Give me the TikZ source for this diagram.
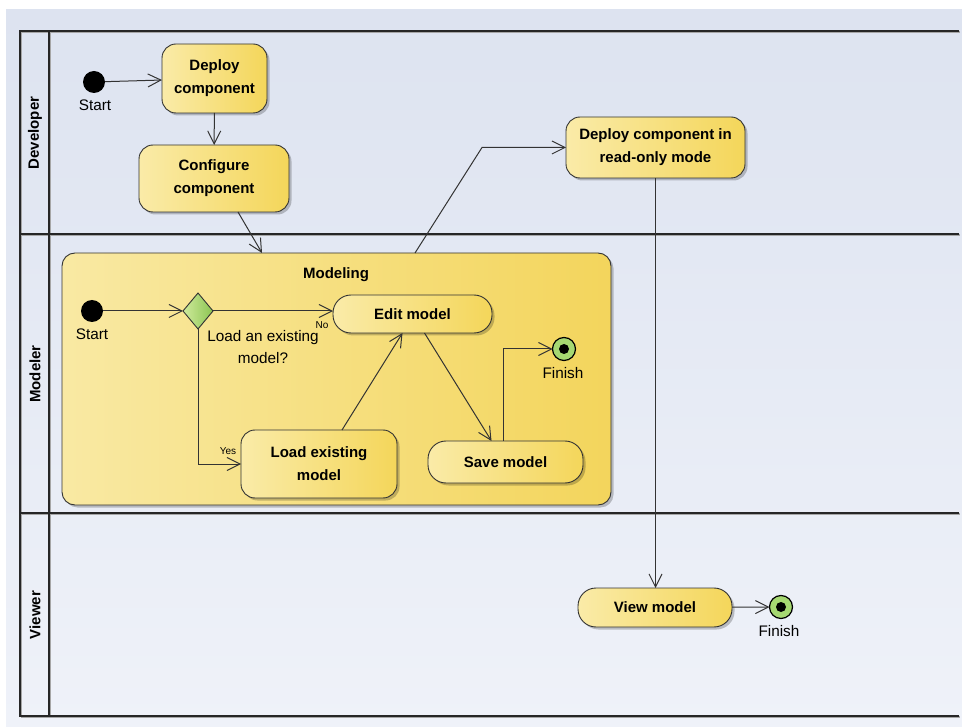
\documentclass[tikz,border=0pt]{standalone}
\usepackage{fontspec}
\setmainfont{Liberation Sans}
\usetikzlibrary{arrows.meta,shapes.geometric,shadows,calc}

\definecolor{bgTop}{HTML}{DDE3F0}
\definecolor{bgBot}{HTML}{EFF2F9}
\definecolor{actL}{HTML}{FAEBA8}
\definecolor{actR}{HTML}{F4D65A}
\definecolor{grpL}{HTML}{F9E9A3}
\definecolor{grpR}{HTML}{F3D55C}
\definecolor{decL}{HTML}{CFEA9C}
\definecolor{decR}{HTML}{8CC552}
\definecolor{finG}{HTML}{A6D872}
\definecolor{edge}{HTML}{333333}

\begin{document}
\begin{tikzpicture}[x=1pt,y=-1pt,
  every node/.style={inner sep=0pt, outer sep=0pt},
  shade/.style={drop shadow={shadow xshift=2.5pt, shadow yshift=-2.5pt, opacity=0.22, fill=black}},
  action/.style={shade, draw=edge, line width=0.9pt, rounded corners=14pt,
    left color=actL, right color=actR, align=center,
    font=\bfseries\fontsize{15}{23}\selectfont},
  group/.style={shade, draw=edge, line width=0.9pt, rounded corners=13pt,
    left color=grpL, right color=grpR},
  initial/.style={circle, fill=black, minimum size=22pt},
  final/.style={circle, draw=black, line width=1.2pt, fill=finG, minimum size=23pt,
    path picture={\fill[black] (path picture bounding box.center) circle (5pt);}},
  decision/.style={diamond, draw=edge, line width=0.9pt, left color=decL, right color=decR,
    minimum width=30pt, minimum height=36pt, aspect=0.83},
  lbl/.style={font=\fontsize{15.3}{22}\selectfont, align=center},
  guard/.style={font=\fontsize{10}{11}\selectfont},
  lane/.style={font=\bfseries\fontsize{15}{16}\selectfont, rotate=90},
  frame/.style={line width=1.4pt, black!85},
  flow/.style={draw=edge, line width=1pt, -{Straight Barb[length=13pt,width=13pt,line width=1pt]}}
]
\useasboundingbox (0,0) rectangle (962,727);

% swimlane background and frame
\fill[top color=bgTop, bottom color=bgBot] (6,10) rectangle (962,727);
\begin{scope}[black!35, line width=1.4pt, transform canvas={xshift=1pt, yshift=-1pt}]
  \draw (20,31) -- (959,31);
  \draw (20,234) -- (959,234);
  \draw (20,513) -- (959,513);
  \draw (20,716) -- (959,716);
  \draw (20,31) -- (20,716);
  \draw (49,31) -- (49,716);
\end{scope}
\draw[frame] (959,31) -- (20,31) -- (20,716) -- (959,716);
\draw[frame] (49,31) -- (49,716);
\draw[frame] (20,234) -- (959,234);
\draw[frame] (20,513) -- (959,513);

\node[lane] (laneDev) at (35,133) {Developer};
\node[lane] (laneMod) at (35,374) {Modeler};
\node[lane] (laneView) at (35,615) {Viewer};

% Developer lane
\node[initial] (start1) at (94,82) {};
\node[lbl] (start1lbl) at (95,105) {Start};
\node[action, minimum width=105pt, minimum height=69pt] (deploy) at (214.5,78.5) {Deploy\\component};
\node[action, minimum width=150pt, minimum height=67pt] (cfg) at (214,178.5) {Configure\\component};
\node[action, minimum width=179pt, minimum height=61pt] (ro) at (655.5,147.5) {Deploy component in\\read-only mode};

% Modeler lane: the Modeling group
\node[group, minimum width=549pt, minimum height=252pt] (modeling) at (336.5,379) {};
\node[font=\bfseries\fontsize{15}{16}\selectfont] (modtitle) at (336,275) {Modeling};

\node[initial] (start2) at (92,311) {};
\node[lbl] (start2lbl) at (92,334) {Start};
\node[decision] (dec) at (198,311) {};
\node[lbl] (question) at (263,347) {Load an existing\\model?};
\node[action, rounded corners=18pt, minimum width=159pt, minimum height=38pt] (edit) at (412.5,314) {Edit model};
\node[action, minimum width=156pt, minimum height=68pt] (load) at (319,464) {Load existing\\model};
\node[action, rounded corners=18pt, minimum width=155pt, minimum height=42pt] (save) at (505.5,462) {Save model};
\node[final] (fin1) at (564,349) {};
\node[lbl] (fin1lbl) at (563,373) {Finish};

% Viewer lane
\node[action, rounded corners=18pt, minimum width=154pt, minimum height=39pt] (view) at (655,607.5) {View model};
\node[final] (fin2) at (781,607) {};
\node[lbl] (fin2lbl) at (779,631) {Finish};

% connection points on the group border
\coordinate (modIn) at ($(modeling.north west)+(200,0)$);
\coordinate (modOut) at ($(modeling.north west)+(353,0)$);

% control flows
\draw[flow] (start1) -- (deploy);
\draw[flow] (deploy) -- (cfg);
\draw[flow] ($(cfg.south)+(24,0)$) -- (modIn);
\draw[flow] (modOut) -- ($(ro.west)+(-84,0)$) -- (ro.west);
\draw[flow] (ro.south) -- (ro.south |- view.north);
\draw[flow] (view) -- (fin2);

\draw[flow] (start2) -- (dec);
\draw[flow] (dec.east) -- (dec.east -| edit.west);
\node[guard] (no) at (322,325) {No};
\draw[flow] (dec.south) |- (load.west);
\node[guard] (yes) at (228,451) {Yes};
\draw[flow] ($(load.north)+(23,0)$) -- ($(edit.south)+(-10,0)$);
\draw[flow] ($(edit.south)+(12,0)$) -- ($(save.north)+(-14,0)$);
\draw[flow] ($(save.north)+(-2,0)$) |- (fin1);
\end{tikzpicture}
\end{document}
